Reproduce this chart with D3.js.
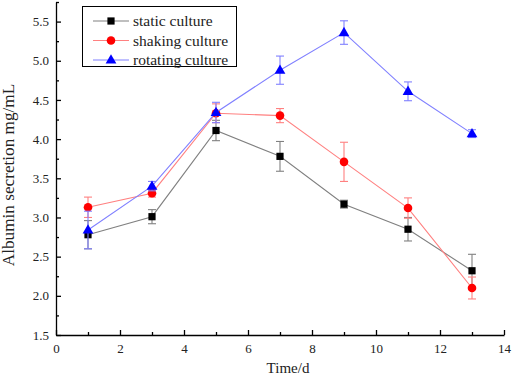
<!DOCTYPE html>
<html>
<head>
<meta charset="UTF-8">
<title>Albumin secretion</title>
<style>
  body { margin: 0; background: #fff; }
  svg text { font-family: "Liberation Serif", "Times New Roman", serif; fill: #222; }
  .axis path, .axis line { stroke: #000; stroke-width: 1.3; }
</style>
</head>
<body>
<div id="chart"></div>
<script src="https://d3js.org/d3.v7.min.js"></script>
<script>
var w = 512, h = 376;
var margin = { left: 56, right: 8, top: 2, bottom: 41 };

var days = [1, 3, 5, 7, 9, 11, 13];
var staticVals = [2.78, 3.01, 4.11, 3.78, 3.17, 2.85, 2.32];
var staticErr = [0.18, 0.09, 0.13, 0.19, 0.05, 0.15, 0.21];
var shakingVals = [3.13, 3.31, 4.33, 4.30, 3.71, 3.12, 2.10];
var shakingErr = [0.13, 0.05, 0.12, 0.09, 0.25, 0.13, 0.14];
var rotatingVals = [2.84, 3.40, 4.34, 4.88, 5.36, 4.61, 4.07];
var rotatingErr = [0.24, 0.06, 0.13, 0.18, 0.15, 0.12, 0.05];

var xTicks = [0, 2, 4, 6, 8, 10, 12, 14];
var yTicks = [1.5, 2.0, 2.5, 3.0, 3.5, 4.0, 4.5, 5.0, 5.5];

var series = [
  { name: "static culture", vals: staticVals, err: staticErr, marker: "square", fill: "#000", line: "#808080" },
  { name: "shaking culture", vals: shakingVals, err: shakingErr, marker: "circle", fill: "#ff0000", line: "#ff8080" },
  { name: "rotating culture", vals: rotatingVals, err: rotatingErr, marker: "triangle", fill: "#0000ff", line: "#8080ff" }
];

var svg = d3.select("#chart").append("svg")
  .attr("width", w).attr("height", h);

var x = d3.scaleLinear().domain([0, 14]).range([margin.left, w - margin.right]);
var y = d3.scaleLinear().domain([1.5, 5.75]).range([h - margin.bottom, margin.top]);

// minor ticks first
svg.append("g").attr("class", "axis")
  .attr("transform", "translate(0," + y(1.5) + ")")
  .call(d3.axisBottom(x).tickValues(d3.range(1, 14, 2)).tickSize(-3).tickFormat(""))
  .select(".domain").remove();
svg.append("g").attr("class", "axis")
  .attr("transform", "translate(" + x(0) + ",0)")
  .call(d3.axisLeft(y).tickValues(d3.range(1.75, 5.8, 0.5)).tickSize(-3).tickFormat(""))
  .select(".domain").remove();

var xAxis = svg.append("g").attr("class", "axis")
  .attr("transform", "translate(0," + y(1.5) + ")")
  .call(d3.axisBottom(x).tickValues(xTicks).tickSizeInner(-5).tickSizeOuter(0).tickPadding(8));
xAxis.selectAll("text").attr("font-size", 13).attr("dy", "0.8em");

var yAxis = svg.append("g").attr("class", "axis")
  .attr("transform", "translate(" + x(0) + ",0)")
  .call(d3.axisLeft(y).tickValues(yTicks).tickSizeInner(-5).tickSizeOuter(0)
    .tickPadding(7).tickFormat(d3.format(".1f")));
yAxis.selectAll("text").attr("font-size", 13);
svg.selectAll(".axis text").style("font-family", "'Liberation Serif', serif").attr("fill", "#222");

svg.append("text")
  .attr("x", 288).attr("y", 373)
  .attr("text-anchor", "middle").attr("font-size", 15)
  .text("Time/d");

svg.append("text")
  .attr("transform", "translate(14," + 175 + ") rotate(-90)")
  .attr("text-anchor", "middle").attr("font-size", 17.2)
  .text("Albumin secretion mg/mL");

var line = d3.line().x(function (d) { return x(d[0]); }).y(function (d) { return y(d[1]); });

function drawMarker(g, type, cx, cy, color) {
  if (type === "square") {
    g.append("rect").attr("x", cx - 3.6).attr("y", cy - 3.6)
      .attr("width", 7.2).attr("height", 7.2).attr("fill", color);
  } else if (type === "circle") {
    g.append("circle").attr("cx", cx).attr("cy", cy).attr("r", 4.3).attr("fill", color);
  } else {
    g.append("path")
      .attr("d", d3.symbol().type(d3.symbolTriangle).size(50)())
      .attr("transform", "translate(" + cx + "," + (cy + 0.5) + ")")
      .attr("fill", color);
  }
}

series.forEach(function (s) {
  var pts = days.map(function (d, i) { return [d, s.vals[i], s.err[i]]; });
  var g = svg.append("g");
  g.append("path").datum(pts)
    .attr("d", line).attr("fill", "none")
    .attr("stroke", s.line).attr("stroke-width", 1.1);
  pts.forEach(function (p) {
    var cx = x(p[0]), top = y(p[1] + p[2]), bot = y(p[1] - p[2]);
    g.append("line").attr("x1", cx).attr("x2", cx).attr("y1", top).attr("y2", bot)
      .attr("stroke", s.line).attr("stroke-width", 1.1);
    [top, bot].forEach(function (yy) {
      g.append("line").attr("x1", cx - 4).attr("x2", cx + 4).attr("y1", yy).attr("y2", yy)
        .attr("stroke", s.line).attr("stroke-width", 1.1);
    });
  });
  pts.forEach(function (p) { drawMarker(g, s.marker, x(p[0]), y(p[1]), s.fill); });
});

// legend
var leg = svg.append("g");
leg.append("rect").attr("x", 82.5).attr("y", 6.5).attr("width", 154).attr("height", 60)
  .attr("fill", "#fff").attr("stroke", "#000").attr("stroke-width", 1);
series.forEach(function (s, i) {
  var yy = 21 + i * 19.5;
  leg.append("line").attr("x1", 93).attr("x2", 129).attr("y1", yy).attr("y2", yy)
    .attr("stroke", s.line).attr("stroke-width", 1.1);
  drawMarker(leg, s.marker, 111, yy, s.fill);
  leg.append("text").attr("x", 133).attr("y", yy).attr("dy", "0.35em")
    .attr("font-size", 15.5).text(s.name);
});
</script>
</body>
</html>
